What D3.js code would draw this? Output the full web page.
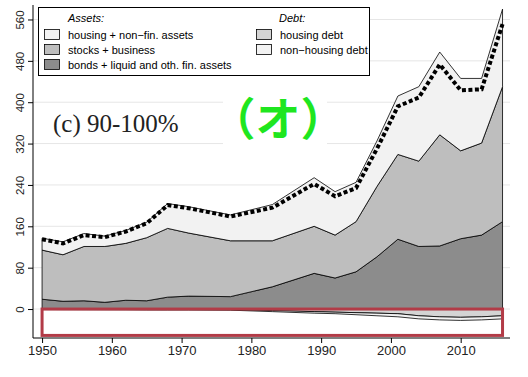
<!DOCTYPE html>
<html>
<head>
<meta charset="utf-8">
<script src="https://cdn.jsdelivr.net/npm/d3@7"></script>
<style>
  body { margin: 0; background: #fff; }
  svg { display: block; font-family: "Liberation Sans", Arial, sans-serif; }
</style>
</head>
<body>
<div id="chart"></div>
<script>
// survey years and values (% of national income)
const years = [1950, 1953, 1956, 1959, 1962, 1965, 1968, 1971, 1977, 1983,
               1989, 1992, 1995, 1998, 2001, 2004, 2007, 2010, 2013, 2016];
const bonds   = [19, 15, 16, 13, 17, 16, 23, 25, 24, 43, 69, 60, 72, 101, 135, 121, 122, 136, 143, 169];
const stocks  = [95, 90, 105, 108, 110, 122, 133, 122, 108, 89, 91, 83, 97, 136, 164, 165, 215, 170, 178, 261];
const housing = [23, 25, 25, 20, 25, 30, 48, 51, 50, 70, 94, 84, 76, 88, 113, 144, 160, 140, 125, 150];
const housingDebt    = [0.5, 0.6, 0.7, 0.8, 0.9, 1, 1, 1, 1.2, 3, 5, 6, 7, 8, 9, 13, 15, 16, 15, 13];
const nonHousingDebt = [0.5, 0.6, 0.6, 0.6, 0.6, 0.7, 0.8, 0.8, 1, 2, 3, 3, 4, 5, 6, 6, 6, 6, 6, 6];
const netWealth = [135, 127, 143, 139, 150, 166, 201, 195, 179, 196,
                   242, 218, 234, 310, 392, 409, 473, 423, 425, 551];

const yTicks = [0, 80, 160, 240, 320, 400, 480, 560];
const xTicks = [1950, 1960, 1970, 1980, 1990, 2000, 2010];

const assetKeys = ["bonds", "stocks", "housing"];
const assetColors = { bonds: "#8c8c8c", stocks: "#bebebe", housing: "#f2f2f2" };

const width = 528, height = 377;

const svg = d3.select("#chart").append("svg")
  .attr("width", width)
  .attr("height", height);

const x = d3.scaleLinear().domain([1948.7, 2017.07]).range([33, 510]);
const y = d3.scaleLinear().domain([-56, 588]).range([338, 5]);

const rows = years.map((yr, i) => ({
  year: yr, bonds: bonds[i], stocks: stocks[i], housing: housing[i],
  hd: housingDebt[i], nhd: nonHousingDebt[i], net: netWealth[i]
}));

// gridlines
svg.append("g")
  .selectAll("line")
  .data(yTicks)
  .enter()
  .append("line")
  .attr("x1", 33)
  .attr("x2", 510)
  .attr("y1", d => y(d))
  .attr("y2", d => y(d))
  .attr("stroke", "#e6e6e6")
  .attr("stroke-width", 1);

// stacked assets
const stack = d3.stack().keys(assetKeys);
const layers = stack(rows);

const area = d3.area()
  .x(d => x(d.data.year))
  .y0(d => y(d[0]))
  .y1(d => y(d[1]));

svg.append("g")
  .selectAll("path")
  .data(layers)
  .enter()
  .append("path")
  .attr("d", area)
  .attr("fill", d => assetColors[d.key])
  .attr("stroke", "#000")
  .attr("stroke-width", 0.8);

// debt below zero
const debtArea1 = d3.area()
  .x(d => x(d.year))
  .y0(y(0))
  .y1(d => y(-d.hd));

const debtArea2 = d3.area()
  .x(d => x(d.year))
  .y0(d => y(-d.hd))
  .y1(d => y(-d.hd - d.nhd));

svg.append("path")
  .datum(rows)
  .attr("d", debtArea1)
  .attr("fill", "#d4d4d4")
  .attr("stroke", "#000")
  .attr("stroke-width", 0.8);

svg.append("path")
  .datum(rows)
  .attr("d", debtArea2)
  .attr("fill", "#f2f2f2")
  .attr("stroke", "#000")
  .attr("stroke-width", 0.8);

// net wealth, thick dotted line
svg.append("path")
  .datum(rows)
  .attr("d", d3.line().x(d => x(d.year)).y(d => y(d.net)))
  .attr("fill", "none")
  .attr("stroke", "#000")
  .attr("stroke-width", 4)
  .attr("stroke-dasharray", "4 2.5");

// axes
const yAxis = svg.append("g")
  .attr("transform", "translate(33,0)")
  .call(d3.axisLeft(y).tickValues(yTicks).tickSize(5).tickFormat(d3.format("d")));
yAxis.select(".domain").attr("d", "M0,5V338");
yAxis.selectAll("text")
  .attr("transform", "rotate(-90)")
  .attr("x", 0)
  .attr("y", -9)
  .attr("dy", 0)
  .attr("text-anchor", "middle")
  .style("font-size", "11.5px")
  .attr("fill", "#222");

const xAxis = svg.append("g")
  .attr("transform", "translate(0,338)")
  .call(d3.axisBottom(x).tickValues(xTicks).tickSize(5).tickFormat(d3.format("d")));
xAxis.select(".domain").attr("d", "M33,0H510");
xAxis.selectAll("text")
  .attr("y", 8)
  .style("font-size", "13px")
  .attr("fill", "#222");
svg.selectAll(".tick text").style("font-family", "'Liberation Sans', Arial, sans-serif");

// legend
const legend = svg.append("g");
legend.append("rect")
  .attr("x", 38.5).attr("y", 7.5)
  .attr("width", 331).attr("height", 68)
  .attr("fill", "#fff").attr("stroke", "#000").attr("stroke-width", 1);

legend.append("text")
  .attr("x", 68).attr("y", 22)
  .style("font-size", "11px").style("font-style", "italic")
  .text("Assets:");
legend.append("text")
  .attr("x", 279).attr("y", 22)
  .style("font-size", "11px").style("font-style", "italic")
  .text("Debt:");

const legendItems = [
  { x: 44, row: 0, fill: assetColors.housing, label: "housing + non\u2212fin. assets" },
  { x: 44, row: 1, fill: assetColors.stocks, label: "stocks + business" },
  { x: 44, row: 2, fill: assetColors.bonds, label: "bonds + liquid and oth. fin. assets" },
  { x: 256, row: 0, fill: "#d4d4d4", label: "housing debt" },
  { x: 256, row: 1, fill: "#f2f2f2", label: "non\u2212housing debt" }
];

legend.selectAll(".sw")
  .data(legendItems)
  .enter()
  .append("rect")
  .attr("class", "sw")
  .attr("x", d => d.x + 0.5)
  .attr("y", d => 29.5 + d.row * 15)
  .attr("width", 15).attr("height", 10)
  .attr("fill", d => d.fill)
  .attr("stroke", "#000").attr("stroke-width", 0.8);

legend.selectAll(".lt")
  .data(legendItems)
  .enter()
  .append("text")
  .attr("class", "lt")
  .attr("x", d => d.x + 24)
  .attr("y", d => 38.5 + d.row * 15)
  .style("font-size", "11px")
  .text(d => d.label);

// panel label
svg.append("text")
  .attr("x", 53).attr("y", 132)
  .style("font-family", "'Liberation Serif', 'DejaVu Serif', serif")
  .style("font-size", "25px")
  .attr("fill", "#222")
  .text("(c) 90-100%");

// overlay annotation
svg.append("rect")
  .attr("x", 223).attr("y", 86)
  .attr("width", 104).attr("height", 62)
  .attr("fill", "#fff");
svg.append("text")
  .attr("x", 278).attr("y", 136)
  .attr("text-anchor", "middle")
  .style("font-family", "'Noto Sans CJK JP', sans-serif")
  .style("font-weight", "bold")
  .style("font-size", "45px")
  .attr("fill", "#1fe61f")
  .text("（オ）");

// red box over the debt area
svg.append("rect")
  .attr("x", x(1950)).attr("y", y(0))
  .attr("width", x(2016) - x(1950))
  .attr("height", y(-51) - y(0))
  .attr("fill", "none")
  .attr("stroke", "#b23b47")
  .attr("stroke-width", 3);
</script>
</body>
</html>
